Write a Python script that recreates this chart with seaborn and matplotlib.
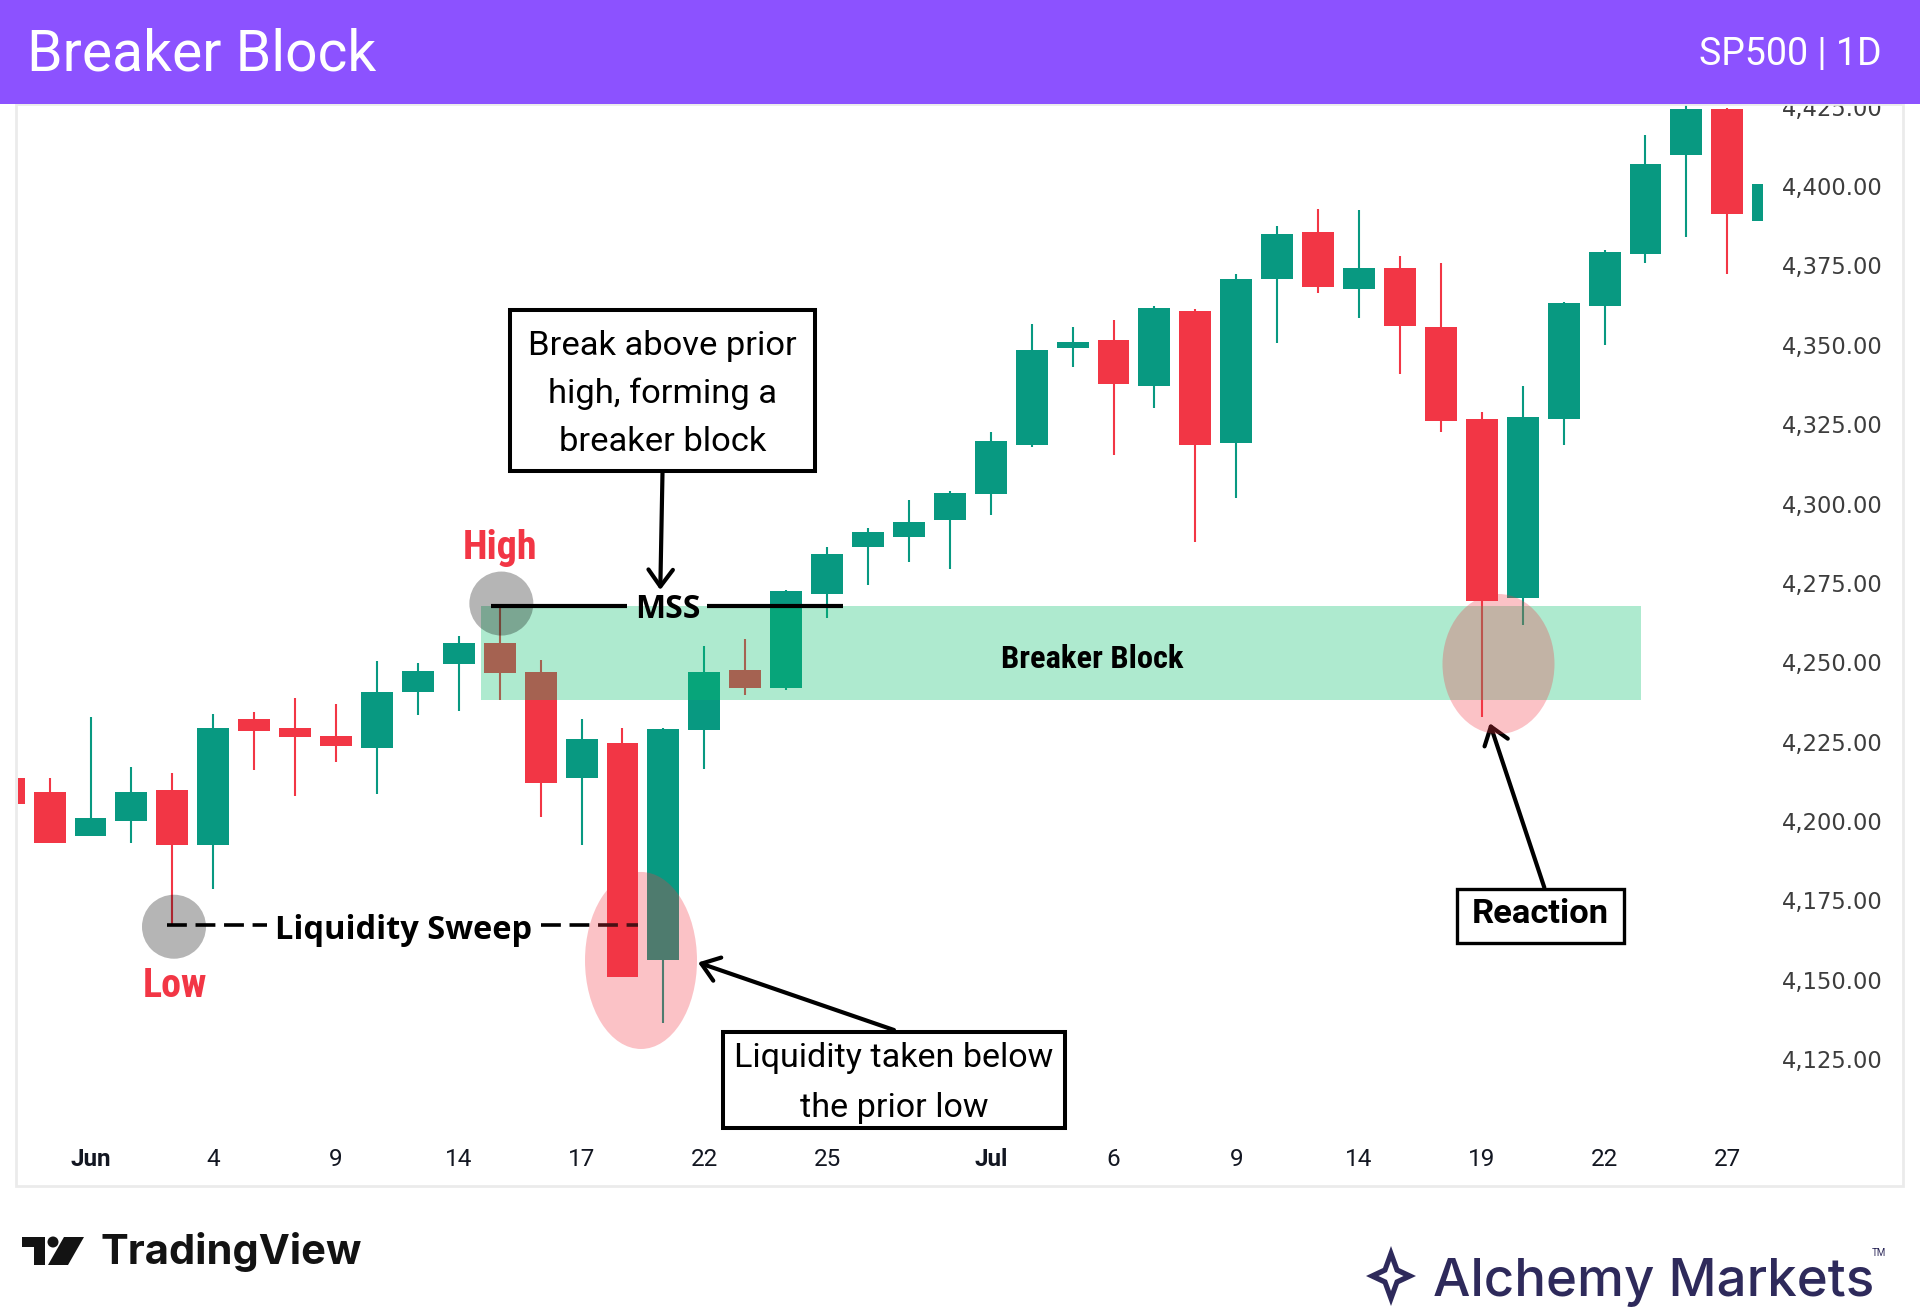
import matplotlib
matplotlib.use('Agg')
import matplotlib.pyplot as plt
from matplotlib import font_manager
from matplotlib.patches import Rectangle, Ellipse, Polygon
import numpy as np
import pandas as pd
import seaborn as sns

# OHLC values, one entry per daily bar
opens = [4213.4, 4209.1, 4195.2, 4200.1, 4209.7, 4192.6, 4232.1, 4229.4, 4226.7, 4223.1,
         4240.7, 4249.4, 4256.1, 4247.0, 4213.6, 4224.6, 4156.2, 4228.7, 4247.6, 4241.9,
         4271.4, 4286.4, 4289.6, 4294.8, 4303.0, 4318.4, 4348.9, 4351.5, 4337.1, 4360.7,
         4319.0, 4370.8, 4385.6, 4367.6, 4374.3, 4355.7, 4326.7, 4270.1, 4326.5, 4362.3,
         4378.7, 4409.9, 4424.3, 4388.9]
highs = [4214.5, 4213.4, 4232.7, 4217.1, 4215.1, 4233.6, 4234.2, 4238.7, 4237.0, 4250.3,
         4249.8, 4258.4, 4267.7, 4250.8, 4232.1, 4229.4, 4229.4, 4255.1, 4257.2, 4272.8,
         4286.4, 4292.2, 4301.1, 4304.1, 4322.6, 4356.5, 4355.7, 4357.8, 4362.2, 4361.2,
         4372.3, 4387.4, 4392.7, 4392.5, 4378.1, 4375.9, 4328.9, 4337.0, 4363.6, 4379.8,
         4416.0, 4426.0, 4424.7, 4400.6]
lows = [4204.0, 4193.1, 4195.2, 4193.1, 4167.2, 4178.7, 4216.0, 4208.0, 4218.6, 4208.6,
        4233.3, 4234.7, 4238.1, 4201.2, 4192.6, 4150.9, 4136.3, 4216.3, 4239.7, 4241.3,
        4263.8, 4274.5, 4281.5, 4279.4, 4296.4, 4317.9, 4343.1, 4315.3, 4330.2, 4288.0,
        4301.8, 4350.6, 4366.2, 4358.4, 4340.7, 4322.6, 4232.9, 4261.7, 4318.3, 4350.0,
        4375.7, 4384.1, 4372.3, 4388.9]
closes = [4205.5, 4193.1, 4201.1, 4209.1, 4192.6, 4229.4, 4228.3, 4226.4, 4223.6, 4240.6,
          4247.1, 4256.1, 4246.7, 4211.9, 4225.7, 4150.9, 4228.9, 4247.0, 4241.8, 4272.3,
          4284.0, 4291.0, 4294.2, 4303.4, 4319.8, 4348.3, 4351.0, 4337.7, 4361.7, 4318.4,
          4370.7, 4384.8, 4368.3, 4374.3, 4355.8, 4325.9, 4269.3, 4327.4, 4363.3, 4379.3,
          4407.0, 4424.3, 4391.2, 4400.6]

date_ticks = [2, 5, 8, 11, 14, 17, 20, 24, 27, 30, 33, 36, 39, 42]
date_labels = ['Jun', '4', '9', '14', '17', '22', '25', 'Jul', '6', '9', '14', '19', '22', '27']
price_ticks = [4125, 4150, 4175, 4200, 4225, 4250, 4275, 4300, 4325, 4350, 4375, 4400, 4425]

BLOCK_BAR = 12   # candle that becomes the breaker block
SWEPT_BAR = 4    # prior low that gets swept

GREEN = '#089981'
RED = '#f23645'
PURPLE = '#8c52ff'

sns.set_theme(style='white')
plt.rcParams['font.family'] = ['Roboto', 'DejaVu Sans']

# pick a condensed bold face for the short labels, if one is installed
fonts = font_manager.fontManager.ttflist
names = {f.name for f in fonts}
narrow = dict(family=['Roboto', 'DejaVu Sans'], fontstretch='normal', scale=0.92)
for n in ['Liberation Sans Narrow', 'Roboto Condensed', 'Open Sans Condensed',
          'Noto Sans Condensed', 'Arial Narrow']:
    if n in names:
        narrow = dict(family=[n], fontstretch='normal', scale=1.0)
        break
else:
    for f in fonts:
        if f.stretch in ('condensed', 'semi-condensed') and f.name in ('Noto Sans', 'Open Sans'):
            narrow = dict(family=[f.name], fontstretch=f.stretch, scale=1.0)
            break


def narrow_text(x, y, s, size, color):
    ax.text(x, y, s, family=narrow['family'], fontstretch=narrow['fontstretch'],
            weight='bold', fontsize=size * narrow['scale'], color=color,
            ha='center', va='baseline', zorder=8)


df = pd.DataFrame({'open': opens, 'high': highs, 'low': lows, 'close': closes})
df['bar'] = np.arange(len(df))
df['color'] = np.where(df['close'] >= df['open'], GREEN, RED)
df['body_lo'] = df[['open', 'close']].min(axis=1)
df['body_h'] = (df['close'] - df['open']).abs().clip(lower=0.6)

W, H = 1920, 1314
fig = plt.figure(figsize=(W / 100, H / 100), dpi=100)
fig.patch.set_facecolor('white')
ax = fig.add_axes([18 / W, (H - 1130) / H, 1745 / W, 1026 / H])
ax.set_facecolor('white')

# candles
ax.vlines(df['bar'], df['low'], df['high'], colors=df['color'], lw=1.5, zorder=2)
ax.bar(df['bar'], df['body_h'], bottom=df['body_lo'], width=0.78, color=df['color'],
       lw=0, zorder=3)

ax.set_xlim(0.228, 42.872)
ax.set_ylim(4102.67, 4425.86)
sns.despine(ax=ax, left=True, bottom=True, right=True, top=True)

ax.set_xticks(date_ticks, date_labels)
ax.tick_params(axis='x', length=0, pad=13, labelsize=17.5, labelcolor='#131722')
for lbl in ax.get_xticklabels():
    if lbl.get_text() in ('Jun', 'Jul'):
        lbl.set_fontweight('bold')

ax.yaxis.tick_right()
ax.set_yticks(price_ticks, [f'{v:,.2f}' for v in price_ticks])
ax.tick_params(axis='y', length=0, pad=13.7, labelsize=16.3, labelcolor='#3d3d3d')
for lbl in ax.get_yticklabels():
    lbl.set_family(['DejaVu Sans'])

# breaker block zone = range of the block candle
z_top, z_bot = highs[BLOCK_BAR], lows[BLOCK_BAR]
ax.add_patch(Rectangle((11.542, z_bot), 39.890 - 11.542, z_top - z_bot,
                       facecolor='#05c06c', alpha=0.32, lw=0, zorder=4))
narrow_text(26.479, 4248.3, 'Breaker Block', 23.4, 'black')

# MSS line at the block high
ax.plot([11.787, 15.111], [z_top, z_top], color='black', lw=3, zorder=5,
        solid_capstyle='butt')
ax.plot([17.066, 20.389], [z_top, z_top], color='black', lw=3, zorder=5,
        solid_capstyle='butt')
ax.text(16.11, 4263.9, 'MSS', family=['Open Sans', 'DejaVu Sans'], weight='bold',
        fontsize=23, ha='center', va='baseline', color='black', zorder=8)

# liquidity sweep line at the swept low
sw = lows[SWEPT_BAR]
for x0, x1 in [(3.879, 6.313), (13.009, 15.389)]:
    ax.plot([x0, x1], [sw, sw], color='black', lw=2.6, dashes=(5.5, 2.4), zorder=5)
ax.text(9.661, 4162.7, 'Liquidity Sweep', family=['Open Sans', 'DejaVu Sans'],
        weight='bold', fontsize=23.5, ha='center', va='baseline', color='black', zorder=8)

# grey circles at high / low
for bx, by in [(BLOCK_BAR, highs[BLOCK_BAR] + 0.8), (SWEPT_BAR, lows[SWEPT_BAR] - 0.5)]:
    ax.add_patch(Ellipse((bx + 0.04, by), 1.564, 20.16, facecolor='black', alpha=0.29,
                         lw=0, zorder=6))
narrow_text(12.0, 4282.5, 'High', 28.8, RED)
narrow_text(4.06, 4144.7, 'Low', 28.8, RED)

# pink highlight ellipses
ax.add_patch(Ellipse((15.453, 4156.07), 2.737, 55.76, facecolor=RED, alpha=0.3, lw=0,
                     zorder=6))
ax.add_patch(Ellipse((36.408, 4249.46), 2.737, 44.1, facecolor=RED, alpha=0.3, lw=0,
                     zorder=6))

arrow = dict(arrowstyle='->,head_length=0.55,head_width=0.4', lw=3, color='black',
             shrinkA=0, shrinkB=0, mutation_scale=22)

# box: break above prior high
ax.add_patch(Rectangle((12.251, 4310.1), 19.705 - 12.251, 4361.0 - 4310.1,
                       facecolor='white', edgecolor='black', lw=2.9, zorder=8,
                       clip_on=False))
for line, yb in zip(['Break above prior', 'high, forming a', 'breaker block'],
                    [4346.8, 4331.6, 4316.4]):
    ax.text(15.978, yb, line, fontsize=24.8, ha='center', va='baseline',
            color='black', zorder=9)
ax.annotate('', xy=(15.924, 4272.77), xytext=(15.978, 4309.63),
            arrowprops=arrow, zorder=7)

# box: liquidity taken below the prior low
ax.add_patch(Rectangle((17.464, 4103.3), 25.814 - 17.464, 4133.6 - 4103.3,
                       facecolor='white', edgecolor='black', lw=2.9, zorder=8,
                       clip_on=False))
for line, yb in zip(['Liquidity taken below', 'the prior low'], [4122.6, 4106.9]):
    ax.text(21.635, yb, line, fontsize=24.6, ha='center', va='baseline',
            color='black', zorder=9)
ax.annotate('', xy=(16.846, 4155.43), xytext=(21.635, 4134.17),
            arrowprops=arrow, zorder=7)

# box: reaction
ax.add_patch(Rectangle((35.401, 4161.6), 39.477 - 35.401, 4178.5 - 4161.6,
                       facecolor='white', edgecolor='black', lw=2.4, zorder=8,
                       clip_on=False))
ax.text(37.439, 4167.8, 'Reaction', fontsize=24.8, weight='bold', ha='center',
        va='baseline', color='black', zorder=9)
ax.annotate('', xy=(36.194, 4230.81), xytext=(37.528, 4179.06),
            arrowprops=arrow, zorder=5)


def fpx(x, y):
    return x / W, 1 - y / H


# chart panel frame
fig.add_artist(Rectangle(fpx(16, 1186), 1887 / W, 1082 / H, transform=fig.transFigure,
                         facecolor='none', edgecolor='#ebebeb', lw=2, zorder=1))

# header band
fig.add_artist(Rectangle(fpx(0, 104), 1, 104 / H, transform=fig.transFigure,
                         facecolor=PURPLE, lw=0, zorder=10))
fig.text(*fpx(27, 70.7), 'Breaker Block', color='white', fontsize=41, ha='left',
         va='baseline', zorder=11)
fig.text(*fpx(1882, 65), 'SP500 | 1D', color='white', fontsize=27, ha='right',
         va='baseline', zorder=11)

# TradingView mark
fig.add_artist(Polygon([fpx(22, 1237), fpx(45, 1237), fpx(45, 1265), fpx(34, 1265),
                        fpx(34, 1247), fpx(22, 1247)], closed=True,
                       transform=fig.transFigure, facecolor='#131313', lw=0, zorder=11))
fig.add_artist(Ellipse(fpx(53, 1242), 11 / W, 11 / H, transform=fig.transFigure,
                       facecolor='#131313', lw=0, zorder=11))
fig.add_artist(Polygon([fpx(64, 1237), fpx(84, 1237), fpx(68, 1265), fpx(48, 1265)],
                       closed=True, transform=fig.transFigure, facecolor='#131313',
                       lw=0, zorder=11))
fig.text(*fpx(100, 1264), 'TradingView', family=['Inter', 'Roboto', 'DejaVu Sans'],
         weight='bold', fontsize=30, color='#131313', ha='left', va='baseline', zorder=11)

# Alchemy Markets mark
NAVY = '#2e2a5b'
cx, cy = 1391, 1276


def star(s):
    pts = [(0, -30), (8, -8), (25, 0), (8, 8), (0, 30), (-8, 8), (-25, 0), (-8, -8)]
    return [fpx(cx + px * s, cy + py * s) for px, py in pts]


fig.add_artist(Polygon(star(1.0), closed=True, transform=fig.transFigure,
                       facecolor=NAVY, lw=0, zorder=11))
fig.add_artist(Polygon(star(0.5), closed=True, transform=fig.transFigure,
                       facecolor='white', lw=0, zorder=12))
fig.text(*fpx(1433, 1295.6), 'Alchemy Markets', family=['Inter', 'Roboto', 'DejaVu Sans'],
         weight='medium', fontsize=38, color=NAVY, ha='left', va='baseline', zorder=11)
fig.text(*fpx(1872, 1256), 'TM', fontsize=7, color=NAVY, ha='left', va='baseline',
         zorder=11)

fig.savefig('out.png', dpi=100)
